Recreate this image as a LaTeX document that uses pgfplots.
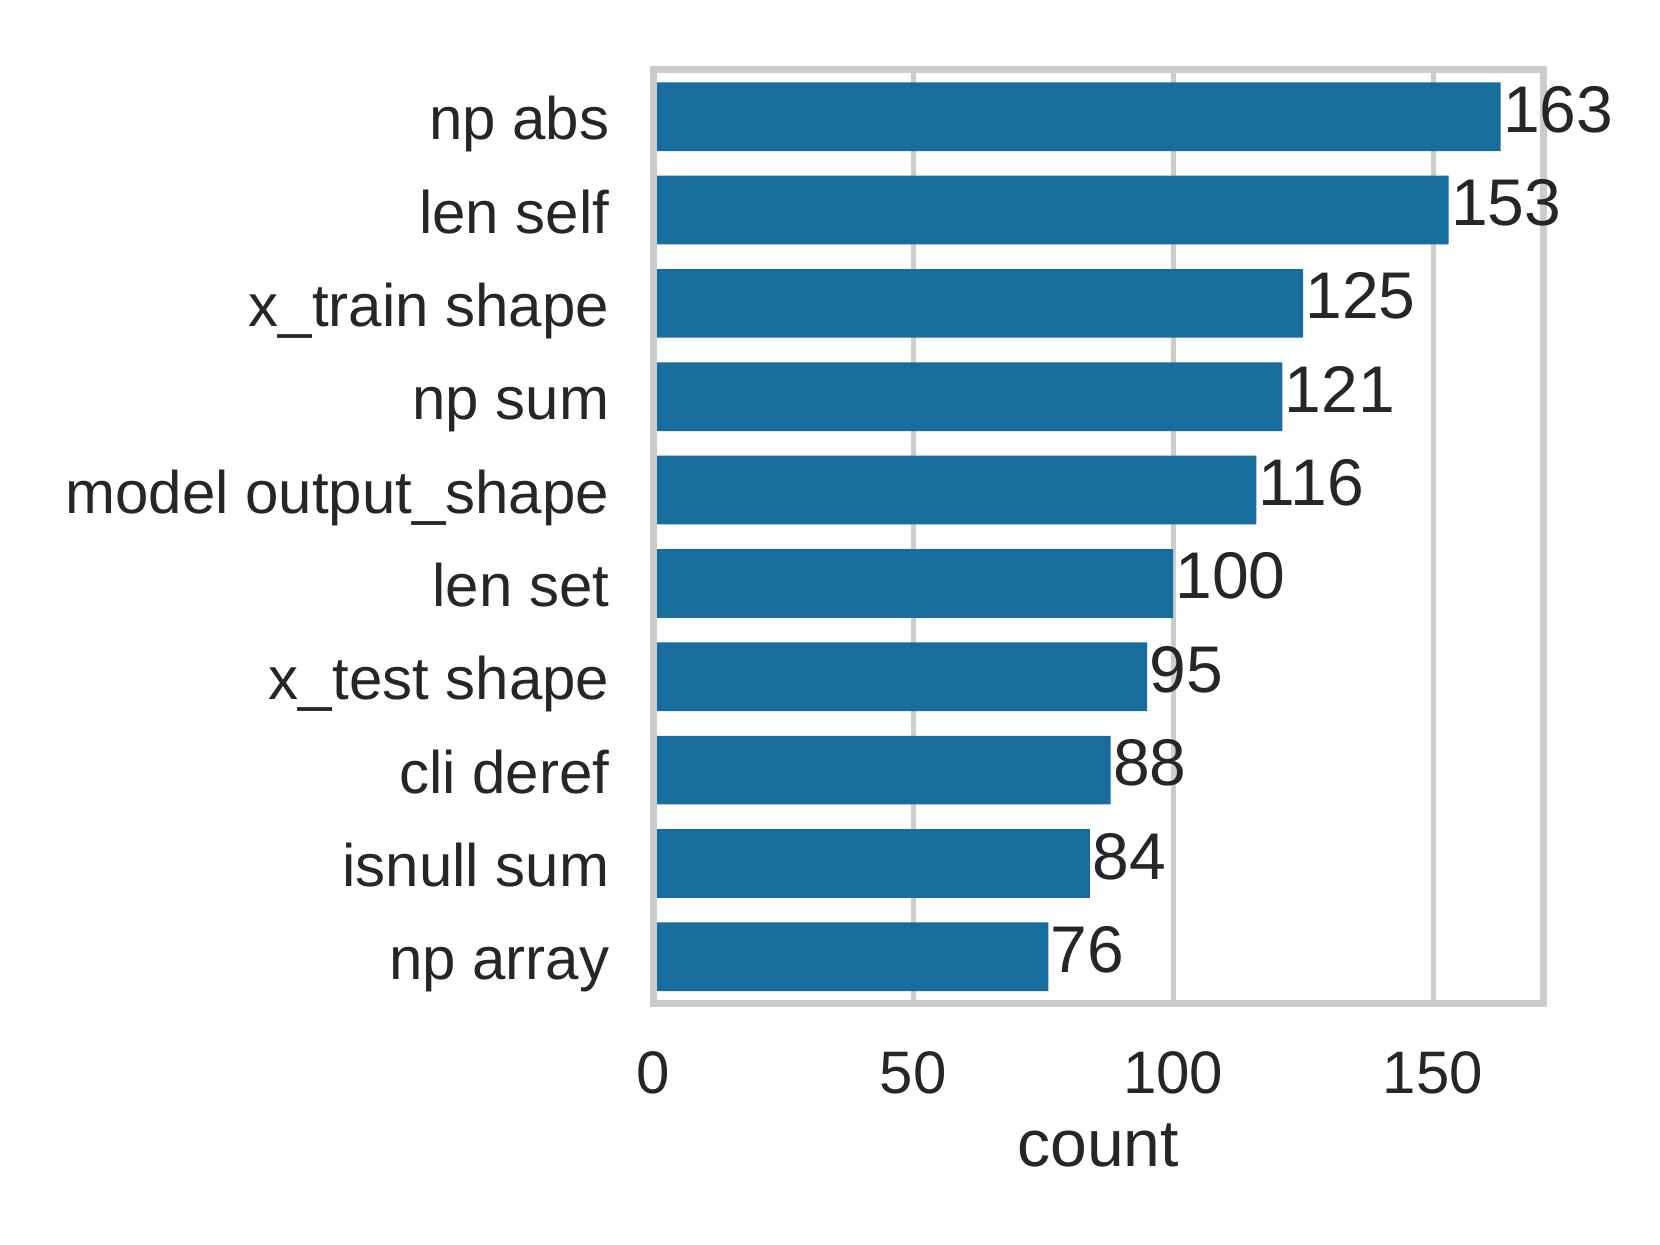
\documentclass[border=0pt]{standalone}
\usepackage{pgfplots}
\pgfplotsset{compat=1.18}
\usepackage{fontspec}
\setmainfont{Liberation Sans}
\definecolor{barblue}{RGB}{23,109,156}
\definecolor{spine}{RGB}{204,204,204}
\definecolor{txt}{RGB}{38,38,38}

\begin{document}
\begin{tikzpicture}
\path[use as bounding box] (-130.64pt,-48.3pt) rectangle (201.36pt,200.7pt);
\begin{axis}[
    at={(0,0)}, anchor=south west,
    scale only axis, width=177.96pt, height=186.7pt,
    xbar, bar width=0.736,
    xmin=0, xmax=171.15,
    ymin=-0.5, ymax=9.5, y dir=reverse,
    ytick={0,...,9},
    yticklabels={np abs,len self,x\_train shape,np sum,model output\_shape,len set,x\_test shape,cli deref,isnull sum,np array},
    xtick={0,50,100,150},
    major tick length=0pt,
    /pgf/number format/assume math mode=true,
    axis line style={spine, line width=1.4pt},
    xmajorgrids, major grid style={spine, line width=1pt},
    ticklabel style={font=\fontsize{12}{14}\selectfont, text=txt, inner sep=0pt},
    xticklabel style={anchor=base, yshift=-17.9pt},
    yticklabel style={anchor=base east, xshift=-8.6pt, yshift=-4.6pt},
    xlabel={count},
    xlabel style={at={(axis description cs:0.5,0)}, anchor=base, yshift=-32.6pt, inner sep=0pt, font=\fontsize{13.2}{15}\selectfont, text=txt},
    nodes near coords,
    nodes near coords style={anchor=west, inner sep=0pt, xshift=0.3pt, yshift=1.44pt, font=\fontsize{13.2}{15}\selectfont, text=txt},
]
\addplot[fill=barblue, draw=none] coordinates {
    (163,0) (153,1) (125,2) (121,3) (116,4) (100,5) (95,6) (88,7) (84,8) (76,9)
};
% spines over the bars
\draw[spine, line width=1.4pt] (rel axis cs:0,0) rectangle (rel axis cs:1,1);
\end{axis}
\end{tikzpicture}
\end{document}
